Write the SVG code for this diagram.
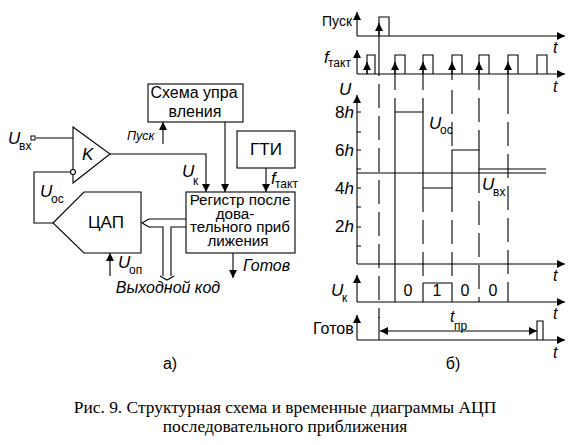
<svg xmlns="http://www.w3.org/2000/svg" width="575" height="445" viewBox="0 0 575 445">
<style>
text{font-family:"Liberation Sans",Arial,sans-serif;font-size:16px;fill:#000}
.i{font-style:italic}
.u{font-style:italic;font-size:17px}
.s{font-size:12px}
.m{text-anchor:middle}
.c{font-family:"Liberation Serif","Times New Roman",serif;font-size:17.4px;text-anchor:middle}
.b{fill:#fff;stroke:#000;stroke-width:1.1}
.l{fill:none;stroke:#000;stroke-width:1.1}
.d{fill:none;stroke:#000;stroke-width:1.1;stroke-dasharray:24 8}
.a{fill:none;stroke:#000;stroke-width:1.1;marker-end:url(#ar)}
.r{font-size:15.2px}
</style>
<defs>
<marker id="ar" markerUnits="userSpaceOnUse" markerWidth="9" markerHeight="8" refX="8" refY="4" orient="auto"><path d="M0 0L8 4L0 8Z" fill="#000"/></marker>
</defs>
<rect width="575" height="445" fill="#fff"/>
<g id="connectors">
<path class="l" d="M36 138H73M71 172H34V223H53"/>
<path class="a" d="M110 154H206V192"/>
<path class="a" d="M225 122V192"/>
<path class="a" d="M266 168V192"/>
<path class="a" d="M163 144V122"/>
<path class="a" d="M233 253V278"/>
<path class="a" d="M110 276V253"/>
<path class="l" d="M186 219H149M186 227H171V276M149 227H163V276M149 219L142 223L149 227M160 276L167 280L174 276"/>
<rect x="31" y="136" width="4" height="4" fill="#fff" stroke="#000"/>
</g>
<g id="node-control"><rect class="b" x="148" y="84" width="95" height="38"/><text class="m" x="194" y="98">Схема упра</text><text class="m" x="195" y="117">вления</text></g>
<g id="node-gti"><rect class="b" x="237" y="131" width="58" height="37"/><text class="m" x="266" y="155" style="font-size:17px">ГТИ</text></g>
<g id="node-register"><rect class="b" x="186" y="192" width="109" height="61"/><text class="m r" x="240" y="205">Регистр после</text><text class="m r" x="235" y="218.500">дова-</text><text class="m r" x="240" y="232">тельного приб</text><text class="m r" x="238" y="245.500">лижения</text></g>
<g id="node-dac"><path class="b" d="M53 223L84 192H141V253H84Z"/><text class="m" x="106" y="228" style="font-size:17px">ЦАП</text></g>
<g id="node-comparator"><path class="b" d="M73 127L110 154L73 183Z"/><circle class="b" cx="73" cy="172" r="2.5"/><text class="u" x="82" y="160">K</text></g>
<g id="labels-left">
<text class="u" x="8" y="144">U</text><text class="s" x="19" y="150">вх</text>
<text class="u" x="40" y="197">U</text><text class="s" x="51" y="203">ос</text>
<text class="i" style="font-size:12.5px" x="127" y="140">Пуск</text>
<text class="u" x="182" y="177">U</text><text class="s" x="193" y="185">к</text>
<text class="u" x="271" y="184">f</text><text class="s" x="275" y="188">такт</text>
<text class="u" x="118" y="268">U</text><text class="s" x="129" y="274">оп</text>
<text class="i" x="243" y="271">Готов</text>
<text class="i m" x="168" y="293">Выходной код</text>
<text class="m" x="170" y="369">а)</text>
</g>
<g id="chart-axes">
<path class="a" d="M357 36V12"/><path class="a" d="M357 36H565"/>
<path class="a" d="M357 74V50"/><path class="a" d="M357 74H565"/>
<path class="a" d="M357 264V95"/><path class="a" d="M357 264H565"/>
<path class="a" d="M357 302V275"/><path class="a" d="M357 302H565"/>
<path class="a" d="M357 340V315"/><path class="a" d="M357 340H565"/>
<path class="l" d="M357 112H361M357 132H361M357 150H361M357 169H361M357 188H361M357 207H361M357 227H361M357 246H361"/>
</g>
<g id="chart-signals">
<path class="l" d="M379 36V17H389V36"/>
<path class="l" d="M367 74V55H375V74M395 74V55H405V74M423 74V55H433V74M452 74V55H462V74M479 74V55H489V74M508 74V55H518V74M537 74V55H547V74"/>
<path class="a" d="M379 52V23"/>
<path class="a" d="M367 74V62"/><path class="a" d="M395 90V62"/><path class="a" d="M423 90V62"/><path class="a" d="M452 80V62"/><path class="a" d="M479 90V62"/><path class="a" d="M508 90V62"/>
<path class="l" d="M395 98V302M395 112H423V188M423 188H452V150H479V169H546M357 173H546"/>
<path class="l" d="M423 283V302M423 283H452V302"/>
<path class="d" d="M379 52V318"/><path class="l" d="M379 317V340"/>
<path class="d" d="M423 98V112M423 188V283"/>
<path class="d" d="M452 90V150M452 188V283"/><path class="d" d="M479 98V150M479 169V302"/><path class="d" d="M508 90V302"/>
<path class="l" d="M537 340V321H543V340"/>
<path class="a" d="M450 331H380"/><path class="a" d="M450 331H537"/>
</g>
<g id="labels-right">
<text x="322" y="26" style="font-size:14px">Пуск</text>
<text class="u" x="324" y="63">f</text><text class="s" x="328" y="67">такт</text>
<text class="u" x="339" y="95">U</text>
<text x="335" y="118" style="font-size:17px">8<tspan class="i">h</tspan></text>
<text x="335" y="156" style="font-size:17px">6<tspan class="i">h</tspan></text>
<text x="335" y="194" style="font-size:17px">4<tspan class="i">h</tspan></text>
<text x="335" y="232" style="font-size:17px">2<tspan class="i">h</tspan></text>
<text class="u" x="429" y="129">U</text><text class="s" x="440" y="134">ос</text>
<text class="u" x="482" y="190">U</text><text class="s" x="493" y="196">вх</text>
<text class="u" x="331" y="296">U</text><text class="s" x="342" y="302">к</text>
<text x="313" y="334">Готов</text>
<text class="m" x="408" y="296">0</text><text class="m" x="437" y="296">1</text><text class="m" x="465" y="296">0</text><text class="m" x="493" y="296">0</text>
<text class="i" x="450" y="322">t</text><text class="s" x="454" y="330">пр</text>
<text class="i" x="553" y="53">t</text><text class="i" x="553" y="92">t</text><text class="i" x="553" y="281">t</text><text class="i" x="553" y="319">t</text><text class="i" x="553" y="358">t</text>
<text class="m" x="453" y="369">б)</text>
</g>
<g id="caption">
<text class="c" x="285" y="413">Рис. 9. Структурная схема и временные диаграммы АЦП</text>
<text class="c" x="285" y="432">последовательного приближения</text>
</g>
</svg>
